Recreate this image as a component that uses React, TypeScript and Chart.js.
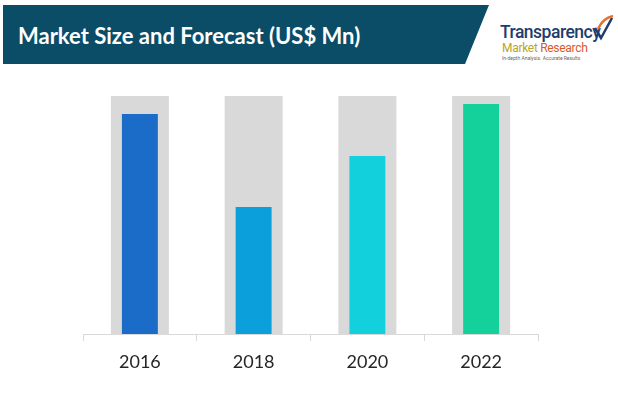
import React, { useEffect, useRef } from "react";
import { Chart, registerables } from "chart.js";

Chart.register(...registerables);

const categories = ["2016", "2018", "2020", "2022"];
const marketValues = [92.4, 53.4, 74.8, 96.6];
const backgroundValues = [100, 100, 100, 100];
const barColors = ["#1a6cc8", "#0ba0dc", "#12d0dc", "#14d09a"];
const title = "Market Size and Forecast (US$ Mn)";

export default function App() {
  const canvasRef = useRef<HTMLCanvasElement | null>(null);

  useEffect(() => {
    document.body.style.margin = "0";
    const canvas = canvasRef.current;
    if (!canvas) return;
    const chart = new Chart(canvas, {
      type: "bar",
      data: {
        labels: categories,
        datasets: [
          {
            label: "Market",
            data: marketValues,
            backgroundColor: barColors,
            barPercentage: 0.316,
            categoryPercentage: 1,
            grouped: false,
            order: 1,
          },
          {
            label: "Background",
            data: backgroundValues,
            backgroundColor: "#d9d9d9",
            barPercentage: 0.51,
            categoryPercentage: 1,
            grouped: false,
            order: 2,
          },
        ],
      },
      options: {
        responsive: false,
        animation: false,
        maintainAspectRatio: false,
        layout: { padding: { top: 96, left: 83, right: 80, bottom: 0 } },
        plugins: { legend: { display: false }, tooltip: { enabled: false } },
        scales: {
          y: { display: false, min: 0, max: 100 },
          x: {
            afterFit: (s: any) => {
              s.height = 60;
            },
            border: { display: true, color: "#d9d9d9", width: 1 },
            grid: {
              display: true,
              drawOnChartArea: false,
              drawTicks: true,
              tickLength: 7,
              color: "#d9d9d9",
              offset: true,
            },
            ticks: {
              color: "#262626",
              padding: 10,
              font: { family: "Lato", size: 18 },
            },
          },
        },
      },
    });
    return () => chart.destroy();
  }, []);

  return (
    <div style={{ position: "relative", width: 618, height: 394, background: "#fff", overflow: "hidden" }}>
      <div
        style={{
          position: "absolute",
          left: 3,
          top: 5,
          width: 486,
          height: 59,
          background: "#0b4c67",
          clipPath: "polygon(0 0, 100% 0, 462px 100%, 0 100%)",
        }}
      />
      <div
        style={{
          position: "absolute",
          left: 18,
          top: 21,
          color: "#ffffff",
          fontFamily: "Lato, 'Open Sans', sans-serif",
          fontWeight: 700,
          fontSize: 22,
          lineHeight: "30px",
          whiteSpace: "nowrap",
        }}
      >
        {title}
      </div>
      <div style={{ position: "absolute", left: 500, top: 22, fontFamily: "Roboto, sans-serif", whiteSpace: "nowrap" }}>
        <div style={{ color: "#1e3d6e", fontSize: 17.5, fontWeight: 500, lineHeight: "20px", letterSpacing: -0.5 }}>
          Transparency
        </div>
        <div style={{ fontSize: 12, lineHeight: "13px", marginLeft: 2, letterSpacing: -0.3 }}>
          <span style={{ color: "#b8a52a" }}>Market </span>
          <span style={{ color: "#d55a2a" }}>Research</span>
        </div>
        <div style={{ color: "#666", fontSize: 5, lineHeight: "7px", marginLeft: 2 }}>
          In-depth Analysis. Accurate Results
        </div>
      </div>
      <svg style={{ position: "absolute", left: 592, top: 14 }} width="24" height="28" viewBox="0 0 24 28">
        <path d="M3 14 L9 24 L20 4" fill="none" stroke="#1e3d6e" strokeWidth="2.5" />
        <path d="M6 15 C10 6, 16 3, 21 2" fill="none" stroke="#e8702a" strokeWidth="2.5" />
      </svg>
      <canvas
        ref={canvasRef}
        width={618}
        height={394}
        style={{ position: "absolute", left: 0, top: 0, width: 618, height: 394 }}
      />
    </div>
  );
}
